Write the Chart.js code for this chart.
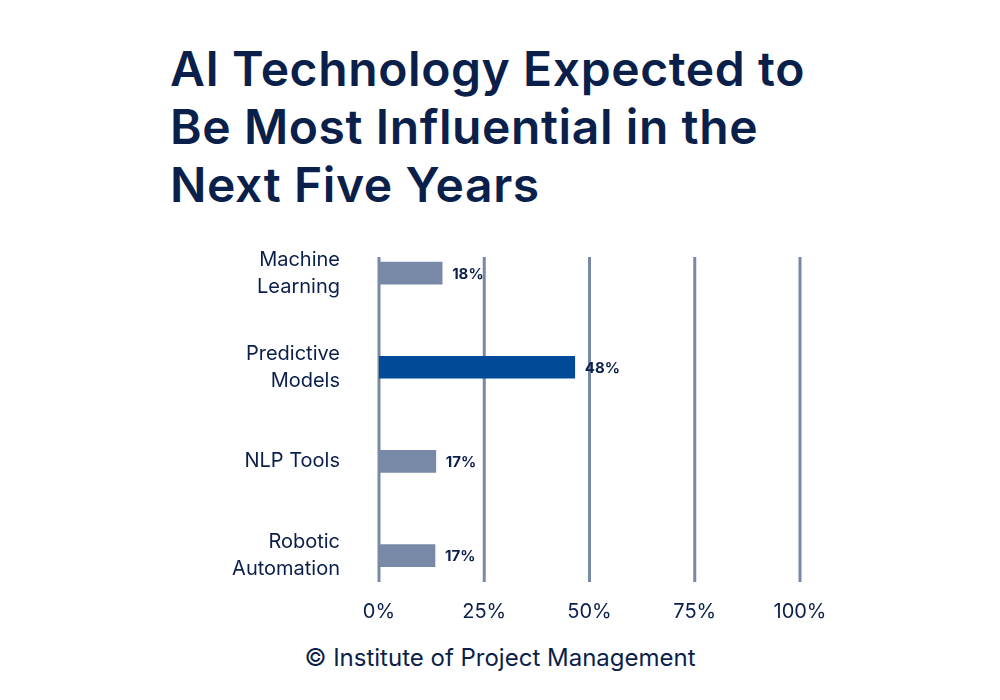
<!DOCTYPE html>
<html><head><meta charset="utf-8">
<script src="https://cdn.jsdelivr.net/npm/chart.js@4/dist/chart.umd.min.js"></script>
<style>
body{margin:0;background:#fff;width:1000px;height:700px;overflow:hidden;position:relative;font-family:Inter,"Noto Sans",sans-serif;color:#0b1f4b}
#t{position:absolute;left:170px;top:40px;font-size:48px;font-weight:600;line-height:58px;letter-spacing:0.6px}
#f{position:absolute;left:0;width:1000px;top:643px;text-align:center;font-size:24px}
canvas{position:absolute;left:0;top:0}
</style></head><body>
<div id="t">AI Technology Expected to<br>Be Most Influential in the<br>Next Five Years</div>
<div id="f">© Institute of Project Management</div>
<canvas id="c" width="1000" height="700"></canvas>
<script>
const categories=[["Machine","Learning"],["Predictive","Models"],["NLP Tools"],["Robotic","Automation"]];
const barLengths=[15,46.5,13.5,13.3];
const valueLabels=["18%","48%","17%","17%"];
const tickValues=[0,25,50,75,100];
const colors=["#7889a8","#004a98","#7889a8","#7889a8"];
const navy="#0b1f4b";
const plug={id:'p',
 beforeDatasetsDraw(ch){const c=ch.ctx,x=ch.scales.x,b=ch.chartArea.bottom;c.save();c.strokeStyle="#7889a8";c.lineWidth=3;
  tickValues.forEach(v=>{const px=x.getPixelForValue(v);c.beginPath();c.moveTo(px,257);c.lineTo(px,b);c.stroke();});c.restore();},
 afterDatasetsDraw(ch){const c=ch.ctx;c.save();c.fillStyle=navy;c.font="bold 15px Inter, sans-serif";c.textBaseline="middle";
  ch.getDatasetMeta(0).data.forEach((el,i)=>{c.fillText(valueLabels[i],el.x+10,el.y+1);});c.restore();}};
new Chart(document.getElementById('c'),{type:'bar',
 data:{datasets:[{data:barLengths.map((v,i)=>({x:v,y:i})),backgroundColor:colors,barThickness:22}]},
 options:{indexAxis:'y',responsive:false,animation:false,
  layout:{padding:{top:226,right:200,left:0,bottom:0}},
  plugins:{legend:{display:false},tooltip:{enabled:false}},
  scales:{
   x:{type:'linear',min:0,max:100,afterBuildTicks(s){s.ticks=tickValues.map(v=>({value:v}));},
     afterFit(s){s.height=118;},border:{display:false},grid:{display:false,drawTicks:false},
     ticks:{padding:18,color:navy,font:{size:20,family:"Inter, sans-serif"},callback:v=>v+'%'}},
   y:{type:'linear',reverse:true,offset:false,min:-0.5,max:3.28,afterBuildTicks(s){s.ticks=[0,1,2,3].map(v=>({value:v}));},
     afterFit(s){s.width=379;},border:{display:false},grid:{display:false,drawTicks:false},
     ticks:{padding:39,color:navy,font:{size:20,family:"Inter, sans-serif",lineHeight:1.35},callback:v=>categories[v]}}
  }},plugins:[plug]});
</script></body></html>
